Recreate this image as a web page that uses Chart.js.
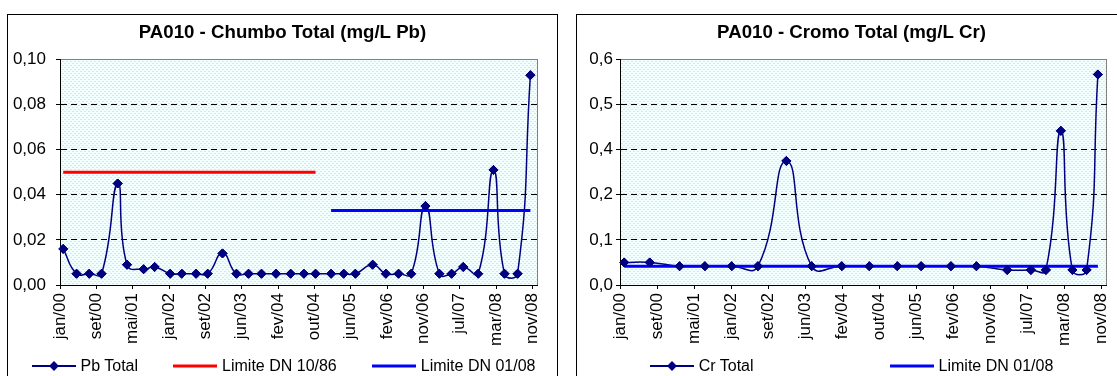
<!DOCTYPE html>
<html><head><meta charset="utf-8">
<script src="https://cdn.jsdelivr.net/npm/chart.js@4.4.1/dist/chart.umd.min.js"></script>
<style>
html,body{margin:0;padding:0;background:#fff;width:1117px;height:376px;overflow:hidden;position:relative;font-family:"Liberation Sans",Arial,sans-serif;}
.box{position:absolute;top:14px;width:551px;height:390px;border:1px solid #000;box-sizing:border-box;background:#fff;}
.box canvas{display:block;}
.legend{position:absolute;top:356px;height:20px;display:flex;justify-content:center;align-items:center;font-size:16px;color:#000;white-space:nowrap;}
.item{display:flex;align-items:center;}
.icon{position:relative;width:44px;height:20px;margin-right:5px;}
.icon .ln{position:absolute;left:0;right:0;top:50%;transform:translateY(-50%);}
.icon .dm{position:absolute;left:50%;top:50%;width:7px;height:7px;transform:translate(-50%,-50%) rotate(45deg);}
</style></head>
<body>
<div class="box" style="left:7px"><canvas id="cPb" width="549" height="388"></canvas></div>
<div class="box" style="left:576px"><canvas id="cCr" width="549" height="388"></canvas></div>
<div class="legend" id="legPb" style="left:8px;width:551px;gap:35px"></div>
<div class="legend" id="legCr" style="left:576px;width:551px;gap:136px"></div>
<script>
// ---------- DATA ----------
const xTickLabels = ['jan/00','set/00','mai/01','jan/02','set/02','jun/03','fev/04','out/04','jun/05','fev/06','nov/06','jul/07','mar/08','nov/08'];

const pbDates = ['2000-01-23','2000-04-24','2000-07-20','2000-10-13','2001-02-01','2001-04-06','2001-07-29','2001-10-13',
  '2002-01-28','2002-04-18','2002-07-25','2002-10-13','2003-01-23','2003-04-29','2003-07-21','2003-10-18',
  '2004-01-26','2004-05-06','2004-08-05','2004-10-24','2005-02-08','2005-05-06','2005-07-25','2005-11-21',
  '2006-02-20','2006-05-18','2006-08-13','2006-11-19','2007-02-23','2007-05-18','2007-08-06','2007-11-17',
  '2008-03-01','2008-05-16','2008-08-14','2008-11-10'];
const pbTotal = [0.016,0.005,0.005,0.005,0.045,0.009,0.007,0.008,
  0.005,0.005,0.005,0.005,0.014,0.005,0.005,0.005,
  0.005,0.005,0.005,0.005,0.005,0.005,0.005,0.009,
  0.005,0.005,0.005,0.035,0.005,0.005,0.008,0.005,
  0.051,0.005,0.005,0.093];
const pbLimit1086 = [0.05,0.05,0.05,0.05,0.05,0.05,0.05,0.05,0.05,0.05,0.05,0.05,0.05,0.05,0.05,0.05,0.05,0.05,0.05,0.05,
  null,null,null,null,null,null,null,null,null,null,null,null,null,null,null,null];
const pbLimit0108 = [null,null,null,null,null,null,null,null,null,null,null,null,null,null,null,null,null,null,null,null,
  0.033,0.033,0.033,0.033,0.033,0.033,0.033,0.033,0.033,0.033,0.033,0.033,0.033,0.033,0.033,0.033];
const pbYTicks = [0, 0.02, 0.04, 0.06, 0.08, 0.10];

const crDates = ['2000-01-29','2000-07-20','2001-02-06','2001-07-27','2002-01-24','2002-07-20','2003-01-28',
  '2003-07-18','2004-02-06','2004-08-10','2005-02-15','2005-07-26','2006-02-12','2006-08-03','2007-02-27',
  '2007-08-06','2007-11-15','2008-02-24','2008-05-12','2008-08-16','2008-10-31'];
const crTotal = [0.06,0.06,0.05,0.05,0.05,0.05,0.33,0.05,0.05,0.05,0.05,0.05,0.05,0.05,0.04,0.04,0.04,0.41,0.04,0.04,0.56];
const crLimit0108 = [0.05,0.05,0.05,0.05,0.05,0.05,0.05,0.05,0.05,0.05,0.05,0.05,0.05,0.05,0.05,0.05,0.05,0.05,0.05,0.05,0.05];
const crYTicks = [0, 0.12, 0.24, 0.36, 0.48, 0.60];

// ---------- SETTINGS ----------
const FONT = '"Liberation Sans", Arial, sans-serif';
const NAVY = '#000080';
const AXIS_START = '2000-01-01';
const AXIS_END = '2008-12-31';
const TICK_STEP_DAYS = 250;

function dayNum(s){
  const [y,m,d] = s.split('-').map(Number);
  const [y0,m0,d0] = AXIS_START.split('-').map(Number);
  return (Date.UTC(y,m-1,d) - Date.UTC(y0,m0-1,d0)) / 864e5;
}
const toPts = (dates, ys) => dates.map((s,i) => ({x: dayNum(s), y: ys[i]}));

function makePattern(ctx){
  const c = document.createElement('canvas'); c.width = 4; c.height = 4;
  const g = c.getContext('2d');
  g.fillStyle = '#f3fefe'; g.fillRect(0,0,4,4);
  g.fillStyle = '#b3f6f6'; g.fillRect(0,0,2,1); g.fillRect(2,2,2,1);
  return ctx.createPattern(c,'repeat');
}
const plotBg = {
  id:'plotBg',
  beforeDraw(chart){
    const {ctx, chartArea:a} = chart;
    ctx.save();
    ctx.fillStyle = makePattern(ctx);
    ctx.fillRect(a.left, a.top, a.right-a.left, a.bottom-a.top);
    ctx.strokeStyle = '#808080'; ctx.lineWidth = 1;
    ctx.strokeRect(Math.round(a.left)+0.5, Math.round(a.top)+0.5, Math.round(a.right-a.left)-1, Math.round(a.bottom-a.top));
    ctx.restore();
  },
  afterDatasetsDraw(chart){
    const meta = chart.getDatasetMeta(0);
    meta.data.forEach(el => el.draw(chart.ctx, chart.chartArea));
  }
};

function makeChart(id, title, datasets, yTicks, yDecimals, yWidth, yPad, rightGap){
  return new Chart(document.getElementById(id), {
    type:'line',
    data:{datasets},
    options:{
      responsive:false, animation:false, events:[],
      layout:{padding:{left:0, right:0, top:0, bottom:58}},
      plugins:{
        legend:{display:false}, tooltip:{enabled:false},
        title:{display:true, text:title, color:'#000', font:{family:FONT, size:18.67, weight:'bold'}, padding:{top:7, bottom:15}}
      },
      scales:{
        x:{
          type:'linear', min:dayNum(AXIS_START), max:dayNum(AXIS_END),
          afterBuildTicks: s => { s.ticks = xTickLabels.map((_,i) => ({value: i*TICK_STEP_DAYS})); },
          afterFit: s => { s.height = 60; },
          grid:{drawOnChartArea:false, drawTicks:true, tickLength:4, color:'#000', tickColor:'#000'},
          border:{display:true, color:'#000', width:1},
          ticks:{autoSkip:false, maxRotation:90, minRotation:90, padding:4, color:'#000',
                 font:{family:FONT, size:17}, callback:(v,i) => xTickLabels[i]}
        },
        y:{
          min:yTicks[0], max:yTicks[yTicks.length-1],
          afterBuildTicks: s => { s.ticks = yTicks.map(v => ({value:v})); },
          afterFit: s => { s.width = yWidth; },
          grid:{color: c => (c.index === 0 || c.index === yTicks.length-1) ? 'rgba(0,0,0,0)' : '#000',
                lineWidth:1, drawTicks:true, tickLength:4, tickColor:'#000'},
          border:{display:true, color:'#000', width:1, dash:[6,4]},
          ticks:{padding:yPad, color:'#000', font:{family:FONT, size:17},
                 callback: v => Number(v).toFixed(yDecimals).replace('.', ',')}
        },
        gap:{
          position:'right', min:0, max:1, display:true,
          afterFit: s => { s.width = rightGap; },
          grid:{display:false}, border:{display:false}, ticks:{display:false}
        }
      }
    },
    plugins:[plotBg]
  });
}

const seriesStyle = {borderColor:NAVY, backgroundColor:NAVY, borderWidth:1.5, tension:0.5,
  pointStyle:'rectRot', pointRadius:4.5, pointBorderWidth:1, pointBackgroundColor:NAVY, pointBorderColor:NAVY, order:2};
const limitStyle = c => ({borderColor:c, backgroundColor:c, borderWidth:3, tension:0, pointRadius:0, spanGaps:false, order:1});

makeChart('cPb', 'PA010 - Chumbo Total (mg/L Pb)', [
  Object.assign({label:'Pb Total', data:toPts(pbDates, pbTotal)}, seriesStyle),
  Object.assign({label:'Limite DN 10/86', data:toPts(pbDates, pbLimit1086)}, limitStyle('#FF0000')),
  Object.assign({label:'Limite DN 01/08', data:toPts(pbDates, pbLimit0108)}, limitStyle('#0000FF'))
], pbYTicks, 2, 52, 10, 16);

makeChart('cCr', 'PA010 - Cromo Total (mg/L Cr)', [
  Object.assign({label:'Cr Total', data:toPts(crDates, crTotal)}, seriesStyle),
  Object.assign({label:'Limite DN 01/08', data:toPts(crDates, crLimit0108)}, limitStyle('#0000FF'))
], crYTicks, 1, 43, 3, 15);

// ---------- HTML legends ----------
function buildLegend(elId, entries){
  const el = document.getElementById(elId);
  entries.forEach(e => {
    const item = document.createElement('div'); item.className = 'item';
    const icon = document.createElement('span'); icon.className = 'icon';
    const ln = document.createElement('span'); ln.className = 'ln';
    ln.style.height = e.marker ? '2px' : '3px'; ln.style.background = e.color;
    icon.appendChild(ln);
    if (e.marker){ const dm = document.createElement('span'); dm.className = 'dm'; dm.style.background = e.color; icon.appendChild(dm); }
    const tx = document.createElement('span'); tx.textContent = e.label;
    item.appendChild(icon); item.appendChild(tx); el.appendChild(item);
  });
}
buildLegend('legPb', [
  {label:'Pb Total', color:NAVY, marker:true},
  {label:'Limite DN 10/86', color:'#FF0000'},
  {label:'Limite DN 01/08', color:'#0000FF'}
]);
buildLegend('legCr', [
  {label:'Cr Total', color:NAVY, marker:true},
  {label:'Limite DN 01/08', color:'#0000FF'}
]);
</script>
</body></html>
